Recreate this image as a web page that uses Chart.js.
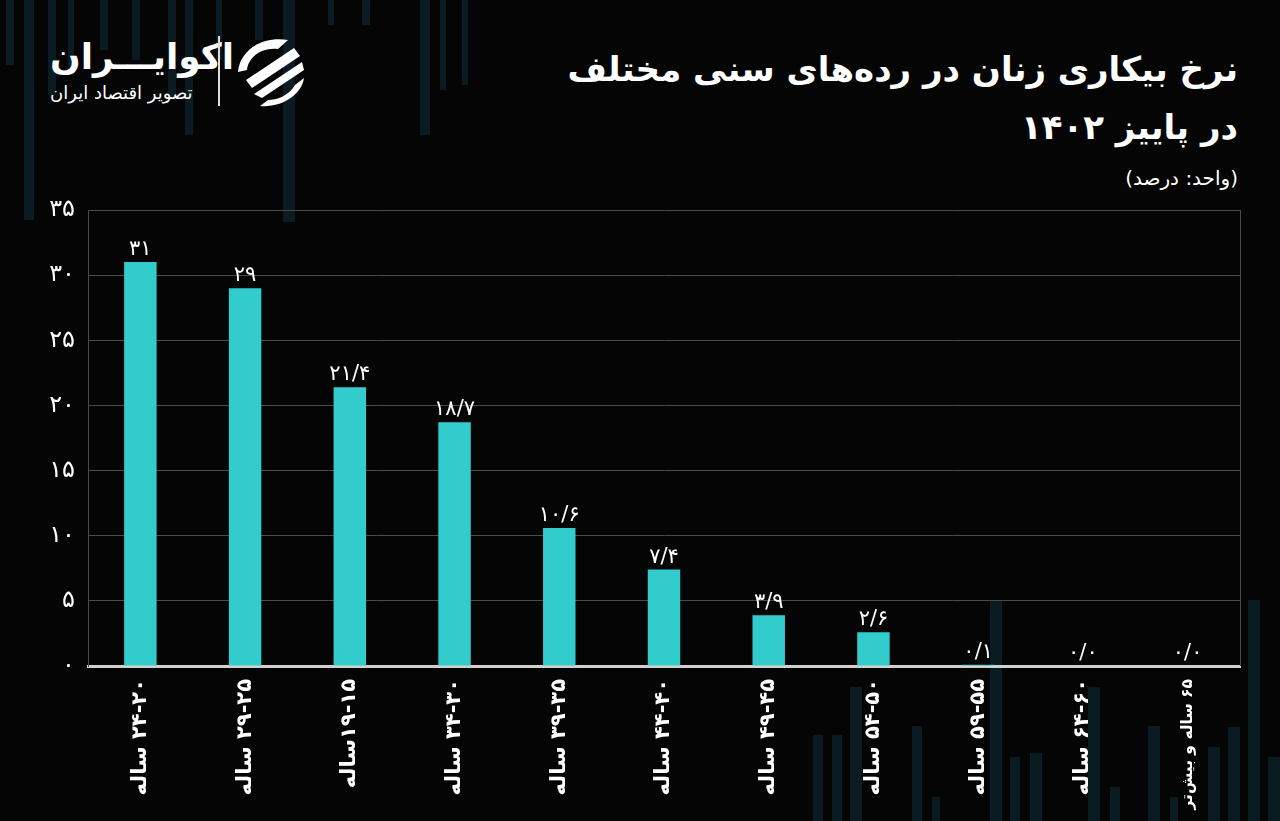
<!DOCTYPE html>
<html lang="fa">
<head>
<meta charset="utf-8">
<script src="https://cdn.jsdelivr.net/npm/chart.js@4/dist/chart.umd.min.js"></script>
<style>
  html, body { margin: 0; padding: 0; background: #050505; }
  body { width: 1280px; height: 821px; position: relative; overflow: hidden; font-family: "DejaVu Sans", sans-serif; }
  .tazeen { position: absolute; background: #0a1b22; }
  #titr { position: absolute; right: 42px; top: 40px; direction: rtl; text-align: right; color: #fff; font-weight: bold; font-size: 34px; line-height: 58px; }
  #vahed { position: absolute; right: 42px; top: 166px; direction: rtl; color: #fff; font-size: 20px; }
  #logo { position: absolute; left: 50px; top: 36px; color: #fff; direction: rtl; }
  #logo .nam { position: absolute; left: 0; top: 0; font-size: 36px; font-weight: bold; white-space: nowrap; }
  #logo .zir { position: absolute; left: 0; top: 46px; font-size: 18px; white-space: nowrap; }
  #logo .khat { position: absolute; left: 168px; top: 0; width: 2px; height: 70px; background: #ddd; }
  #logo svg { position: absolute; left: 182px; top: 0; }
  #nemoodar { position: absolute; left: 0; top: 0; }
</style>
</head>
<body>
<div id="logo">
  <div class="nam">اکوایـــران</div>
  <div class="zir">تصویر اقتصاد ایران</div>
  <div class="khat"></div>
  <svg width="76" height="72" viewBox="0 0 76 72">
    <path d="M6 36 C8 14 30 0 56 4 L46 13 C30 11 16 21 15 34 Z" fill="#fff"/>
    <path d="M14 44 L62 12 L68 20 L20 52 Z" fill="#fff"/>
    <path d="M22 58 L70 26 L72 34 L30 62 Z" fill="#fff"/>
    <path d="M28 70 C50 72 70 58 72 42 L63 49 C57 60 44 64 36 64 Z" fill="#fff"/>
  </svg>
</div>
<div id="titr">نرخ بیکاری زنان در رده‌های سنی مختلف<br>در پاییز ۱۴۰۲</div>
<div id="vahed">(واحد: درصد)</div>
<canvas id="nemoodar" width="1280" height="821" dir="rtl"></canvas>
<script>
const gorooh = ['۲۴-۲۰ ساله', '۲۹-۲۵ ساله', '۱۹-۱۵ساله', '۳۴-۳۰ ساله', '۳۹-۳۵ ساله', '۴۴-۴۰ ساله',
    '۴۹-۴۵ ساله', '۵۴-۵۰ ساله', '۵۹-۵۵ ساله', '۶۴-۶۰ ساله', '۶۵ ساله و بیش‌تر'];
const nerkh = [31, 29, 21.4, 18.7, 10.6, 7.4, 3.9, 2.6, 0.1, 0, 0];
const barchasb = ['۳۱', '۲۹', '۲۱/۴', '۱۸/۷', '۱۰/۶', '۷/۴', '۳/۹', '۲/۶', '۰/۱', '۰/۰', '۰/۰'];

// navarhaye kamrang posht zamine: [x, y, pahna, ertefa]
const tazeen = [
    [6, 0, 8, 65], [24, 0, 10, 220], [48, 0, 8, 95], [68, 0, 6, 75], [100, 0, 8, 50],
    [132, 0, 8, 60], [168, 0, 8, 100], [185, 0, 8, 135], [216, 0, 6, 60], [255, 0, 8, 40],
    [283, 0, 12, 222], [328, 0, 6, 25], [362, 0, 8, 25], [420, 0, 10, 135], [440, 0, 6, 90],
    [462, 0, 6, 85],
    [813, 735, 10, 86], [832, 735, 10, 86], [850, 687, 12, 134], [912, 726, 10, 95],
    [932, 797, 8, 24], [990, 600, 12, 221], [1010, 757, 10, 64], [1030, 753, 12, 68],
    [1088, 687, 12, 134], [1110, 787, 10, 34], [1148, 726, 12, 95], [1170, 797, 8, 24],
    [1208, 747, 12, 74], [1228, 727, 12, 94], [1248, 600, 12, 221], [1268, 757, 12, 64]
];
tazeen.forEach(([x, y, w, h]) => {
    const d = document.createElement('div');
    d.className = 'tazeen';
    d.style.cssText = `left:${x}px;top:${y}px;width:${w}px;height:${h}px`;
    document.body.insertBefore(d, document.body.firstChild);
});

function farsi(n) {
    return String(n).replace(/\d/g, d => '۰۱۲۳۴۵۶۷۸۹'[d]);
}

// barchasb roye har sotoon
const barchasbPlugin = {
    id: 'barchasb',
    afterDatasetsDraw(chart) {
        const ctx = chart.ctx;
        const meta = chart.getDatasetMeta(0);
        ctx.save();
        ctx.fillStyle = '#fff';
        ctx.font = '21px "DejaVu Sans"';
        ctx.textAlign = 'center';
        ctx.textBaseline = 'bottom';
        meta.data.forEach((bar, i) => {
            ctx.fillText(barchasb[i], bar.x, bar.y - 2);
        });
        ctx.restore();
    }
};

// khat samt rast
const ghabPlugin = {
    id: 'ghab',
    beforeDatasetsDraw(chart) {
        const a = chart.chartArea;
        const ctx = chart.ctx;
        ctx.save();
        ctx.strokeStyle = '#4a4a4a';
        ctx.lineWidth = 1;
        ctx.beginPath();
        ctx.moveTo(a.right + 0.5, a.top);
        ctx.lineTo(a.right + 0.5, a.bottom);
        ctx.stroke();
        ctx.restore();
    }
};

const nemoodar = new Chart(document.getElementById('nemoodar'), {
    type: 'bar',
    data: {
        labels: gorooh,
        datasets: [{
            data: nerkh,
            backgroundColor: '#33cccc',
            barPercentage: 0.31,
            categoryPercentage: 1
        }]
    },
    options: {
        responsive: false,
        animation: false,
        layout: { padding: { top: 210, right: 40, left: 0, bottom: 0 } },
        plugins: { legend: { display: false }, tooltip: { enabled: false } },
        scales: {
            x: {
                grid: { display: false },
                border: { color: '#d0d0d0', width: 3 },
                afterFit: s => { s.height = 155; },
                ticks: {
                    color: '#fff',
                    font: c => ({ family: 'DejaVu Sans', size: c.index === 10 ? 15.5 : 21, weight: 'bold' }),
                    minRotation: 90,
                    maxRotation: 90,
                    padding: 5
                }
            },
            y: {
                min: 0,
                max: 35,
                afterFit: s => { s.width = 88; },
                grid: { color: '#4a4a4a', drawTicks: false },
                border: { color: '#4a4a4a' },
                ticks: {
                    stepSize: 5,
                    color: '#fff',
                    padding: 13,
                    font: { family: 'DejaVu Sans', size: 24 },
                    callback: v => farsi(v)
                }
            }
        }
    },
    plugins: [barchasbPlugin, ghabPlugin]
});
</script>
</body>
</html>
